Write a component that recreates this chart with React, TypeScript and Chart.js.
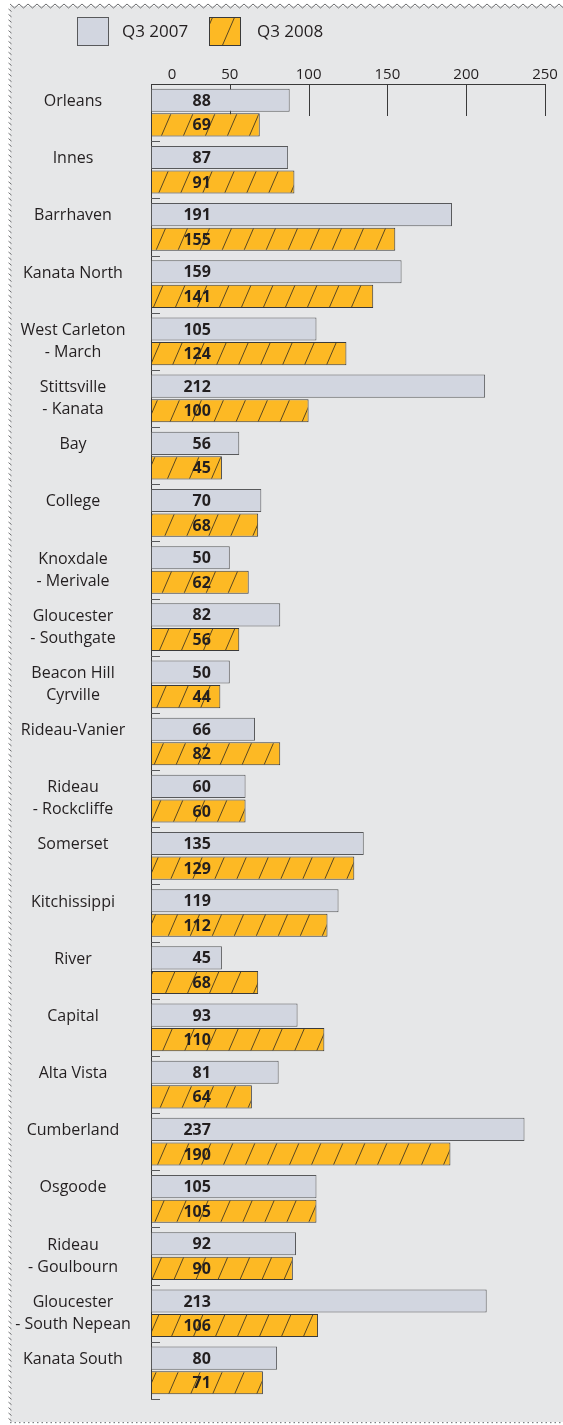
import React, { useEffect, useRef } from 'react';
import { Chart, registerables } from 'chart.js';
Chart.register(...registerables);

const categories: string[][] = [
  ['Orleans'], ['Innes'], ['Barrhaven'], ['Kanata North'], ['West Carleton', '- March'],
  ['Stittsville', '- Kanata'], ['Bay'], ['College'], ['Knoxdale', '- Merivale'],
  ['Gloucester', '- Southgate'], ['Beacon Hill', 'Cyrville'], ['Rideau-Vanier'],
  ['Rideau', '- Rockcliffe'], ['Somerset'], ['Kitchissippi'], ['River'], ['Capital'],
  ['Alta Vista'], ['Cumberland'], ['Osgoode'], ['Rideau', '- Goulbourn'],
  ['Gloucester', '- South Nepean'], ['Kanata South'],
];
const q3_2007 = [88, 87, 191, 159, 105, 212, 56, 70, 50, 82, 50, 66, 60, 135, 119, 45, 93, 81, 237, 105, 92, 213, 80];
const q3_2008 = [69, 91, 155, 141, 124, 100, 45, 68, 62, 56, 44, 82, 60, 129, 112, 68, 110, 64, 190, 105, 90, 106, 71];
const seriesLabels = ['Q3 2007', 'Q3 2008'];
const xMin = 0;
const xMax = 250;
const xStep = 50;

const W = 563;
const H = 1425;
const FONT = "'Open Sans', 'Noto Sans', sans-serif";
const TEXT = '#231f20';
const GRAY_FILL = '#d2d6e0';
const GRAY_BORDER = '#58595b';
const ORANGE = '#fdb924';
const ORANGE_BORDER = '#3a3a3a';

function makeHatch(): CanvasPattern | string {
  const tile = document.createElement('canvas');
  tile.width = 22;
  tile.height = 51;
  const c = tile.getContext('2d');
  if (!c) return ORANGE;
  c.fillStyle = ORANGE;
  c.fillRect(0, 0, 22, 51);
  c.strokeStyle = '#3b3324';
  c.lineWidth = 0.85;
  c.beginPath();
  for (const off of [-22, 0, 22]) {
    c.moveTo(off, 51);
    c.lineTo(off + 22, 0);
  }
  c.stroke();
  const p = c.createPattern(tile, 'repeat');
  return p || ORANGE;
}

export default function App() {
  const ref = useRef<HTMLCanvasElement | null>(null);

  useEffect(() => {
    const canvas = ref.current;
    if (!canvas) return;
    const hatch = makeHatch();

    const decor = {
      id: 'decor',
      beforeDraw(chart: any) {
        const ctx = chart.ctx as CanvasRenderingContext2D;
        ctx.save();
        ctx.fillStyle = '#ffffff';
        ctx.fillRect(0, 0, W, H);
        ctx.fillStyle = '#e6e7e8';
        ctx.fillRect(10, 6, W - 10, H - 6 - 3);
        ctx.strokeStyle = '#6d6e70';
        ctx.lineWidth = 1;
        ctx.beginPath();
        for (let x = 10; x < W; x += 9) {
          ctx.moveTo(x, 4);
          ctx.lineTo(x + 4.5, 8);
          ctx.lineTo(x + 9, 4);
        }
        ctx.stroke();
        ctx.beginPath();
        for (let y = 9; y < H - 5; y += 5.4) {
          ctx.moveTo(8.5, y);
          ctx.lineTo(11.5, y + 2.5);
        }
        ctx.stroke();
        ctx.fillStyle = '#808285';
        for (let x = 10; x < W; x += 4.5) ctx.fillRect(x, 1422, 1.5, 1.2);
        ctx.restore();
      },
      beforeDatasetsDraw(chart: any) {
        const ctx = chart.ctx as CanvasRenderingContext2D;
        const xs = chart.scales.x;
        const top = chart.chartArea.top;
        ctx.save();
        ctx.strokeStyle = '#3a3a3a';
        ctx.lineWidth = 1;
        ctx.beginPath();
        for (let v = xMin + xStep; v <= xMax; v += xStep) {
          const x = Math.round(xs.getPixelForValue(v)) + 0.5;
          ctx.moveTo(x, top);
          ctx.lineTo(x, top + 32);
        }
        ctx.stroke();
        ctx.restore();
      },
      afterDatasetsDraw(chart: any) {
        const ctx = chart.ctx as CanvasRenderingContext2D;
        const xs = chart.scales.x;
        const ys = chart.scales.y;
        ctx.save();
        // category boundary marks
        ctx.strokeStyle = '#58595b';
        ctx.lineWidth = 1;
        ctx.beginPath();
        const x0 = xs.getPixelForValue(0);
        for (let i = 1; i <= categories.length; i++) {
          const y = Math.round(ys.getPixelForValue(i - 0.5)) + 0.5;
          ctx.moveTo(x0, y);
          ctx.lineTo(x0 + 9, y);
        }
        ctx.stroke();
        // value labels
        ctx.fillStyle = TEXT;
        ctx.font = `bold 16px ${FONT}`;
        ctx.textAlign = 'right';
        ctx.textBaseline = 'middle';
        const lx = xs.getPixelForValue(38);
        chart.data.datasets.forEach((ds: any, d: number) => {
          const meta = chart.getDatasetMeta(d);
          meta.data.forEach((bar: any, i: number) => {
            ctx.fillText(String(ds.data[i]), lx, bar.y + 1);
          });
        });
        // category labels
        ctx.font = `16px ${FONT}`;
        ctx.textAlign = 'center';
        categories.forEach((lines, i) => {
          const cy = ys.getPixelForValue(i);
          lines.forEach((t, k) => {
            ctx.fillText(t, 73, cy - 11 + k * 22);
          });
        });
        // zero tick label
        ctx.font = `15px ${FONT}`;
        ctx.fillText('0', xs.getPixelForValue(0) + 21, 75);
        // legend
        const boxes = [
          { x: 77, fill: GRAY_FILL as any, stroke: GRAY_BORDER, tx: 122 },
          { x: 209, fill: hatch as any, stroke: ORANGE_BORDER, tx: 257 },
        ];
        ctx.font = `17px ${FONT}`;
        ctx.textAlign = 'left';
        boxes.forEach((b, k) => {
          ctx.fillStyle = b.fill;
          ctx.fillRect(b.x, 17, 31, 28);
          ctx.strokeStyle = b.stroke;
          ctx.strokeRect(b.x + 0.5, 17.5, 31, 28);
          ctx.fillStyle = TEXT;
          ctx.fillText(seriesLabels[k], b.tx, 32);
        });
        ctx.restore();
      },
    };

    const chart = new Chart(canvas, {
      type: 'bar',
      data: {
        labels: categories.map((c) => c.join(' ')),
        datasets: [
          {
            label: seriesLabels[0],
            data: q3_2007,
            backgroundColor: GRAY_FILL,
            borderColor: GRAY_BORDER,
            borderWidth: 1,
            borderSkipped: false,
            categoryPercentage: 0.86,
            barPercentage: 0.94,
          },
          {
            label: seriesLabels[1],
            data: q3_2008,
            backgroundColor: hatch as any,
            borderColor: ORANGE_BORDER,
            borderWidth: 1,
            borderSkipped: false,
            categoryPercentage: 0.86,
            barPercentage: 0.94,
          },
        ],
      },
      options: {
        indexAxis: 'y',
        responsive: false,
        animation: false,
        devicePixelRatio: 1,
        layout: { padding: { left: 151, right: 18, top: 0, bottom: 26 } },
        plugins: { legend: { display: false }, tooltip: { enabled: false } },
        scales: {
          x: {
            position: 'top',
            min: xMin,
            max: xMax,
            ticks: {
              stepSize: xStep,
              padding: 0,
              color: TEXT,
              font: { family: FONT, size: 15 },
              callback: (v: any) => (Number(v) === 0 ? '' : String(v)),
            },
            grid: { display: false, drawTicks: false },
            border: { display: true, color: '#3a3a3a', width: 1 },
            afterFit: (s: any) => {
              s.height = 84;
            },
          },
          y: {
            ticks: { display: false },
            grid: { display: false, drawTicks: false },
            border: { display: true, color: '#3a3a3a', width: 1 },
            afterFit: (s: any) => {
              s.width = 0;
            },
          },
        },
      },
      plugins: [decor],
    } as any);

    return () => chart.destroy();
  }, []);

  return (
    <div style={{ position: 'absolute', left: 0, top: 0, width: W, height: H }}>
      <canvas ref={ref} width={W} height={H} style={{ display: 'block', width: W, height: H }} />
    </div>
  );
}
